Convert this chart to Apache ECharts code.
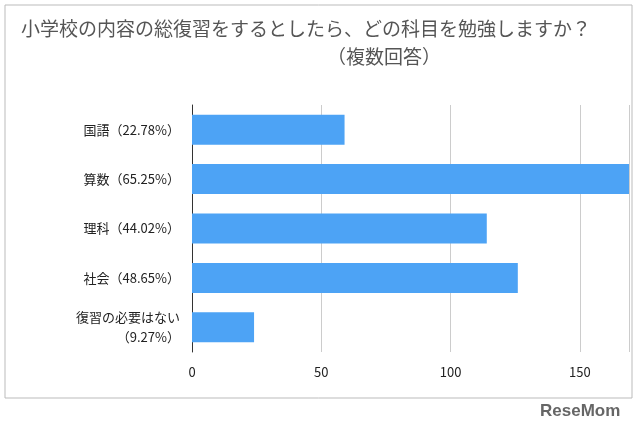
<!DOCTYPE html>
<html><head><meta charset="utf-8">
<script src="https://cdn.jsdelivr.net/npm/echarts@6/dist/echarts.min.js"></script>
<style>html,body{margin:0;padding:0;background:#fff}#main{width:640px;height:433px}</style>
</head><body><div id="main"></div>
<script>
var categories = ["国語（22.78%）", "算数（65.25%）", "理科（44.02%）", "社会（48.65%）", "復習の必要はない\n（9.27%）"];
var counts = [59, 169, 114, 126, 24];
var xTicks = [0, 50, 100, 150];

var myChart = echarts.init(document.getElementById("main"));
var option = {
  textStyle: { fontFamily: "Noto Sans CJK JP" },
  graphic: [
    { type: "rect", shape: { x: 5, y: 5, width: 627, height: 393 }, style: { fill: "none", stroke: "#bbb", lineWidth: 1 } },
    { type: "text", left: 540, top: 403, style: { text: "ReseMom", fill: "#666", font: "bold 17px Liberation Sans" } }
  ],
  title: [
    { text: "小学校の内容の総復習をするとしたら、どの科目を勉強しますか？", left: 16, top: 14,
      textStyle: { fontSize: 19, fontWeight: "normal", color: "#555", fontFamily: "Noto Sans CJK JP" } },
    { text: "（複数回答）", left: 322, top: 42,
      textStyle: { fontSize: 19, fontWeight: "normal", color: "#555", fontFamily: "Noto Sans CJK JP" } }
  ],
  grid: { left: 192, right: 11, top: 105, bottom: 81 },
  xAxis: {
    type: "value", min: 0, max: 169, interval: 50,
    axisLabel: { color: "#222", fontSize: 13, margin: 14, showMaxLabel: false,
      formatter: function (v) { return xTicks.indexOf(v) >= 0 ? v : ""; } },
    splitLine: { lineStyle: { color: "#ccc" } }
  },
  yAxis: {
    type: "category", inverse: true, data: categories,
    axisLine: { lineStyle: { color: "#333" } }, axisTick: { show: false },
    axisLabel: { color: "#222", fontSize: 13, margin: 12, lineHeight: 20 }
  },
  series: [{ type: "bar", data: counts, barWidth: 30, itemStyle: { color: "#4da3f5" } }]
};
myChart.setOption(option);
</script></body></html>
